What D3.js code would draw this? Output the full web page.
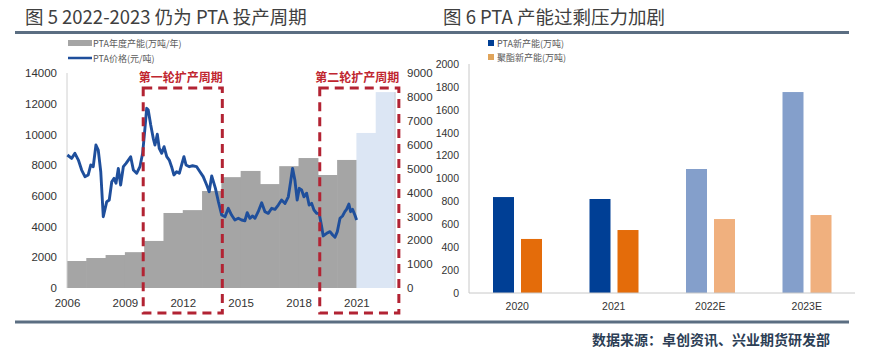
<!DOCTYPE html>
<html><head><meta charset="utf-8">
<script src="https://cdn.jsdelivr.net/npm/d3@7"></script>
<style>
body{margin:0;background:#fff;}
svg{display:block;font-family:"Noto Sans","Noto Sans CJK SC",sans-serif;}
</style></head>
<body><svg id="c" width="884" height="358"></svg>
<script>
// ---------- Data: left chart ----------
const capYears = [2006,2007,2008,2009,2010,2011,2012,2013,2014,2015,2016,2017,2018,2019,2020,2021,2022];
const capValues = [1130,1255,1380,1500,1970,3140,3260,4060,4640,4900,4350,5100,5440,4730,5360,6490,8200];
const capForecast = [false,false,false,false,false,false,false,false,false,false,false,false,false,false,false,true,true];

const priceDates = [2006.02,2006.24,2006.41,2006.59,2006.76,2006.93,2007.10,2007.23,2007.36,2007.50,2007.62,2007.75,2007.88,
 2008.06,2008.19,2008.32,2008.44,2008.54,2008.66,2008.78,2008.92,2009.06,2009.18,2009.30,2009.44,2009.61,2009.78,2009.92,
 2010.04,2010.13,2010.21,2010.34,2010.47,2010.56,2010.68,2010.78,2010.91,2011.03,2011.17,2011.30,2011.42,2011.54,2011.68,
 2011.82,2011.94,2012.06,2012.17,2012.34,2012.51,2012.72,2012.89,2013.06,2013.24,2013.37,2013.50,2013.69,2013.85,
 2014.02,2014.19,2014.36,2014.53,2014.70,2014.88,2015.05,2015.22,2015.34,2015.48,2015.62,2015.74,2015.91,
 2016.09,2016.26,2016.43,2016.61,2016.78,2016.95,2017.12,2017.30,2017.47,2017.59,2017.69,2017.81,2017.93,
 2018.04,2018.16,2018.28,2018.42,2018.55,2018.68,2018.80,2018.94,2019.07,2019.20,2019.28,2019.46,2019.63,2019.77,2019.89,
 2020.01,2020.15,2020.28,2020.40,2020.49,2020.61,2020.70,2020.80,2020.92,2021.01];
const priceValues = [8660,8440,8770,8330,7680,7250,7360,8010,7900,9310,8980,7570,4640,
 5620,5730,6920,7140,6820,7790,6710,7900,8120,8330,8550,7680,7470,7900,8770,
 10400,11700,11590,10610,9750,9310,10010,9100,8770,9200,8550,8330,7900,7360,7570,
 7470,8010,8550,8010,7900,7960,7900,7570,7250,6710,6270,7300,6500,5600,
 4750,4640,5190,4750,4430,4540,4430,4380,4900,4540,4690,4540,4970,
 5550,4970,4860,5190,5120,5400,5730,5510,5940,6920,7790,7030,5730,
 6490,6380,5940,6170,5400,5510,5080,4860,4860,3990,3390,3560,3670,3450,3300,
 3670,4540,4690,4970,5120,5470,4970,5120,4750,4430];

const leftTicksL = [0,2000,4000,6000,8000,10000,12000,14000];
const leftTicksR = [0,1000,2000,3000,4000,5000,6000,7000,8000,9000];
const xTickYears = [2006,2009,2012,2015,2018,2021];
const cycleLabels = ["第一轮扩产周期","第二轮扩产周期"];
const cycleFrom = [2009.95, 2019.1];
const cycleTo = [2014.05, 2023.2];

// ---------- Data: right chart ----------
const rCategories = ["2020","2021","2022E","2023E"];
const ptaNew = [838, 821, 1083, 1755];
const petNew = [472, 550, 646, 681];
const rTicks = [0,200,400,600,800,1000,1200,1400,1600,1800,2000];

const svg = d3.select("#c");

// Titles and rules
svg.append("text").attr("x",25).attr("y",24).attr("font-size",18.5).attr("fill","#404040")
  .attr("font-family","'Noto Sans CJK SC',sans-serif").text("图 5 2022-2023 仍为 PTA 投产周期");
svg.append("text").attr("x",443).attr("y",24).attr("font-size",18.5).attr("fill","#404040")
  .attr("font-family","'Noto Sans CJK SC',sans-serif").text("图 6 PTA 产能过剩压力加剧");
svg.append("line").attr("x1",15).attr("x2",849).attr("y1",32.5).attr("y2",32.5).attr("stroke","#5b6e82").attr("stroke-width",3);
svg.append("line").attr("x1",15).attr("x2",849).attr("y1",322).attr("y2",322).attr("stroke","#5b6e82").attr("stroke-width",3);
svg.append("text").attr("x",830).attr("y",345).attr("text-anchor","end").attr("font-size",14).attr("font-weight","bold")
  .attr("fill","#2c3e55").attr("font-family","'Noto Sans CJK SC',sans-serif").text("数据来源：卓创资讯、兴业期货研发部");

// ---------- Left chart ----------
const x = d3.scaleLinear().domain([2006,2023]).range([67,395]);
const yL = d3.scaleLinear().domain([0,14000]).range([288,73]);
const yR = d3.scaleLinear().domain([0,9000]).range([288,73]);
const L = svg.append("g");

L.selectAll("rect.cap").data(capYears).enter().append("rect")
  .attr("x",(d)=>x(d)).attr("width",(d)=>x(d+1)-x(d)+0.6)
  .attr("y",(d,i)=>yR(capValues[i])).attr("height",(d,i)=>yR(0)-yR(capValues[i]))
  .attr("fill",(d,i)=>capForecast[i]?"#dce6f4":"#a5a5a5");
L.append("line").attr("x1",x(2023)).attr("x2",x(2023)).attr("y1",yR(capValues[capValues.length-1])).attr("y2",yR(0))
  .attr("stroke","#c8ccd2").attr("stroke-width",1);

const axL = L.append("g").attr("transform","translate(67,0)")
  .call(d3.axisLeft(yL).tickValues(leftTicksL).tickSize(0).tickPadding(10).tickFormat(d3.format("d")));
axL.select(".domain").attr("stroke","#d0d0d0").attr("d","M0,73V288");
axL.selectAll("text").attr("font-size",11.5).attr("fill","#333");

const axR = L.append("g").attr("transform","translate(395,0)")
  .call(d3.axisRight(yR).tickValues(leftTicksR).tickSize(0).tickPadding(12).tickFormat(d3.format("d")));
axR.select(".domain").remove();
axR.selectAll("text").attr("font-size",11.5).attr("fill","#333");

const axX = L.append("g").attr("transform","translate(0,288)")
  .call(d3.axisBottom(x).tickValues(xTickYears).tickSize(0).tickPadding(11).tickFormat(d3.format("d")));
axX.select(".domain").remove();
axX.selectAll("text").attr("font-size",11.5).attr("fill","#333");

const line = d3.line().x((d,i)=>x(priceDates[i])).y((d)=>yL(d));
L.append("path").datum(priceValues).attr("d",line).attr("fill","none")
  .attr("stroke","#1f4f9c").attr("stroke-width",2.9).attr("stroke-linejoin","round");

// cycle boxes
const boxTop = 88, boxBottom = 313;
cycleLabels.forEach((lab,i)=>{
  L.append("rect").attr("x",x(cycleFrom[i])).attr("y",boxTop)
    .attr("width",x(cycleTo[i])-x(cycleFrom[i])).attr("height",boxBottom-boxTop)
    .attr("fill","none").attr("stroke","#b22333").attr("stroke-width",3).attr("stroke-dasharray","9,6");
  L.append("text").attr("x",(x(cycleFrom[i])+x(cycleTo[i]))/2-2).attr("y",82)
    .attr("text-anchor","middle").attr("font-size",12).attr("font-weight","bold").attr("fill","#c0262f")
    .attr("font-family","'Noto Sans CJK SC',sans-serif").text(lab);
});

// left legend
L.append("rect").attr("x",68).attr("y",40).attr("width",24).attr("height",6).attr("fill","#a5a5a5");
L.append("text").attr("x",93).attr("y",46.5).attr("font-size",9).attr("fill","#595959")
  .attr("font-family","'Noto Sans CJK SC',sans-serif").text("PTA年度产能(万吨/年)");
L.append("line").attr("x1",68).attr("x2",92).attr("y1",58).attr("y2",58).attr("stroke","#1f4f9c").attr("stroke-width",2.5);
L.append("text").attr("x",93).attr("y",61.5).attr("font-size",9).attr("fill","#595959")
  .attr("font-family","'Noto Sans CJK SC',sans-serif").text("PTA价格(元/吨)");

// ---------- Right chart ----------
const xb = d3.scaleBand().domain(rCategories).range([469,855]).padding(0);
const xi = d3.scaleBand().domain(["pta","pet"]).range([24,73]).paddingInner(0.25).paddingOuter(0);
const y2 = d3.scaleLinear().domain([0,2000]).range([293,64]);
const R = svg.append("g");
const isE = (c)=>c.endsWith("E");
const colPTA = (c)=>isE(c)?"#849fcb":"#003f95";
const colPET = (c)=>isE(c)?"#f0b07e":"#e46c0a";

R.selectAll("rect.pta").data(rCategories).enter().append("rect")
  .attr("x",(c)=>xb(c)+xi("pta")).attr("width",xi.bandwidth())
  .attr("y",(c,i)=>y2(ptaNew[i])).attr("height",(c,i)=>y2(0)-y2(ptaNew[i])).attr("fill",colPTA);
R.selectAll("rect.pet").data(rCategories).enter().append("rect")
  .attr("x",(c)=>xb(c)+xi("pet")).attr("width",xi.bandwidth())
  .attr("y",(c,i)=>y2(petNew[i])).attr("height",(c,i)=>y2(0)-y2(petNew[i])).attr("fill",colPET);

const ay2 = R.append("g").attr("transform","translate(469,0)")
  .call(d3.axisLeft(y2).tickValues(rTicks).tickSize(0).tickPadding(10).tickFormat(d3.format("d")));
ay2.select(".domain").attr("stroke","#c8c8c8").attr("d","M0,64V293");
ay2.selectAll("text").attr("font-size",10.5).attr("fill","#333");

const ax2 = R.append("g").attr("transform","translate(0,293)")
  .call(d3.axisBottom(xb).tickSize(0).tickPadding(10));
ax2.select(".domain").attr("stroke","#c8c8c8").attr("d","M469,0H855");
ax2.selectAll("text").attr("font-size",10.5).attr("fill","#333");

R.append("rect").attr("x",488).attr("y",40).attr("width",6).attr("height",6).attr("fill","#003f95");
R.append("text").attr("x",497).attr("y",46.5).attr("font-size",9).attr("fill","#595959")
  .attr("font-family","'Noto Sans CJK SC',sans-serif").text("PTA新产能(万吨)");
R.append("rect").attr("x",488).attr("y",54).attr("width",6).attr("height",6).attr("fill","#e0a45a");
R.append("text").attr("x",497).attr("y",60.5).attr("font-size",9).attr("fill","#595959")
  .attr("font-family","'Noto Sans CJK SC',sans-serif").text("聚酯新产能(万吨)");
</script></body></html>
